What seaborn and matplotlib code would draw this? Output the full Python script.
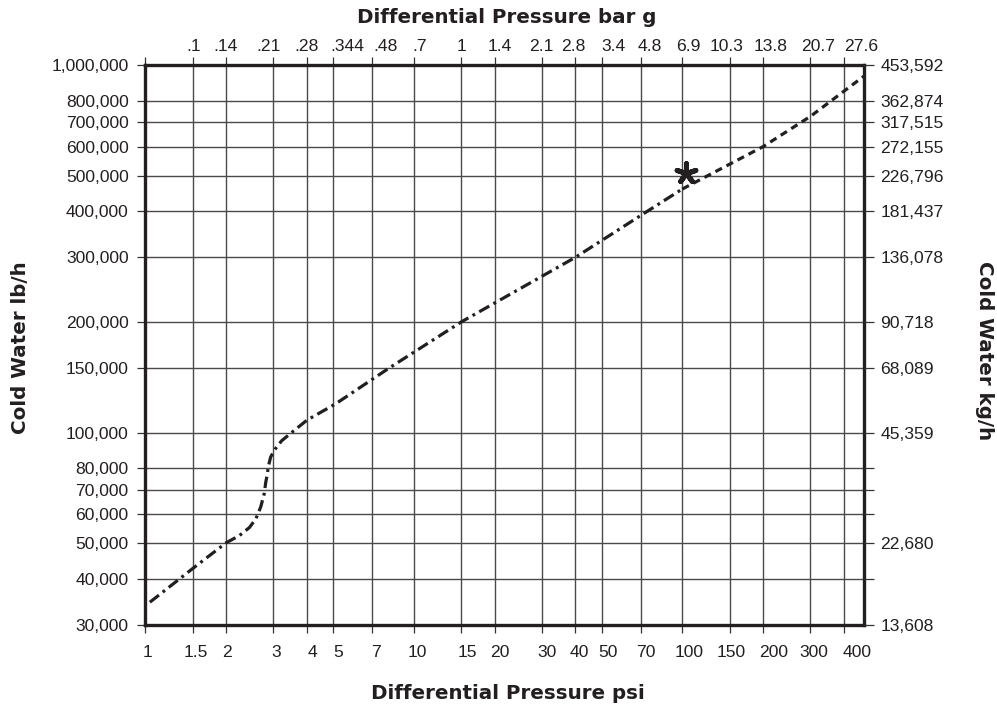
import matplotlib
matplotlib.use("Agg")
import matplotlib.pyplot as plt
import matplotlib.ticker as mticker
import matplotlib.transforms as mtrans
import seaborn as sns
import pandas as pd

# ---------------- data ----------------
psi_ticks = [1, 1.5, 2, 3, 4, 5, 7, 10, 15, 20, 30, 40, 50, 70, 100, 150, 200, 300, 400]
psi_labels = ["1", "1.5", "2", "3", "4", "5", "7", "10", "15", "20", "30", "40",
              "50", "70", "100", "150", "200", "300", "400"]
bar_labels = ["", ".1", ".14", ".21", ".28", ".344", ".48", ".7", "1", "1.4", "2.1",
              "2.8", "3.4", "4.8", "6.9", "10.3", "13.8", "20.7", "27.6"]

lbh_ticks = [30000, 40000, 50000, 60000, 70000, 80000, 100000, 150000, 200000,
             300000, 400000, 500000, 600000, 700000, 800000, 1000000]
lbh_labels = ["30,000", "40,000", "50,000", "60,000", "70,000", "80,000", "100,000",
              "150,000", "200,000", "300,000", "400,000", "500,000", "600,000",
              "700,000", "800,000", "1,000,000"]
kgh_labels = ["13,608", "", "22,680", "", "", "", "45,359", "68,089", "90,718",
              "136,078", "181,437", "226,796", "272,155", "317,515", "362,874", "453,592"]

# capacity curve (dash-dot part)
psi_main = [1.04, 1.5, 2.0, 2.24, 2.44, 2.58, 2.69, 2.77, 2.81, 2.85, 2.87, 2.93,
            3.05, 3.22, 3.5, 4.0, 5.12, 8.1, 15, 40, 74, 100]
flow_main = [34600, 42700, 50200, 52500, 55200, 58300, 62800, 68100, 73400, 77400,
             80800, 85900, 90400, 95100, 100000, 108200, 119900, 150000, 200000,
             300000, 400000, 460000]
# extrapolated part (dashed)
psi_ext = [100, 200, 300, 476]
flow_ext = [460000, 600000, 725000, 934000]
# marked point
star_psi = [103]
star_flow = [510000]

# ---------------- layout (label nudges in pixels, as in the original artwork) ----------------
bottom_nudge_px = [2.7, 3.4, 0.4, 2.6, 5.1, 5.1, 3.8, 3.7, 5.9, 5.4, 5.1, 3.6, 6.6,
                   5.3, 6.7, 1.4, 10.9, 3.6, 13.1]
top_nudge_px = [0, 1.4, -0.1, -4.4, -0.9, 14.1, 13.8, 6.2, -0.1, 5.4, -0.9, -2.4,
                11.6, 9.3, 5.7, -2.6, 7.9, 7.6, 17.1]

# ---------------- style ----------------
sns.set_style("white")
plt.rcParams["font.family"] = ["Liberation Sans", "DejaVu Sans"]
TXT = "#231f20"
TICK_FS = 12.6

fig = plt.figure(figsize=(9.97, 7.06), dpi=100)
ax = fig.add_axes([145.3 / 997, 1 - 625 / 706, (864.3 - 145.3) / 997, (625 - 65) / 706])
ax.set_xscale("log")
ax.set_yscale("log")
ax.set_xlim(1, 476)
ax.set_ylim(30000, 1000000)

df_main = pd.DataFrame({"psi": psi_main, "flow": flow_main})
df_ext = pd.DataFrame({"psi": psi_ext, "flow": flow_ext})
sns.lineplot(data=df_main, x="psi", y="flow", ax=ax, color=TXT, linewidth=2.3,
             sort=False, estimator=None, zorder=5)
ax.lines[-1].set_dashes([3.6, 1.5, 0.9, 1.5])
ax.lines[-1].set_solid_joinstyle("round")
sns.lineplot(data=df_ext, x="psi", y="flow", ax=ax, color=TXT, linewidth=2.3,
             sort=False, estimator=None, zorder=5)
ax.lines[-1].set_dashes([2.3, 1.6])
sns.scatterplot(x=star_psi, y=star_flow, ax=ax, marker=(5, 2, 0), s=200,
                color=TXT, linewidth=3.6, edgecolor=TXT, zorder=6)

# ticks and grid
ax.xaxis.set_minor_locator(mticker.NullLocator())
ax.yaxis.set_minor_locator(mticker.NullLocator())
ax.set_xticks(psi_ticks)
ax.set_xticklabels([])
ax.set_yticks(lbh_ticks)
ax.set_yticklabels(lbh_labels)
ax.grid(True, which="major", color="#4a4a4a", linewidth=1.0)
ax.tick_params(axis="x", direction="out", length=5, width=0.9, color="#333333",
               bottom=True, top=True, labelbottom=False)
ax.tick_params(axis="x", which="major", top=True, length=6)
ax.tick_params(axis="y", direction="out", length=5.5, width=0.9, color="#333333",
               pad=6.5, labelsize=TICK_FS, labelcolor=TXT, left=True)
for s in ax.spines.values():
    s.set_linewidth(2.4)
    s.set_color(TXT)
    s.set_zorder(7)

# bottom (psi) and top (bar g) tick labels, nudged as in the original
base = mtrans.blended_transform_factory(ax.transData, ax.transAxes)
for v, lab, dx in zip(psi_ticks, psi_labels, bottom_nudge_px):
    tr = base + mtrans.ScaledTranslation(dx / 100, -32.3 / 100, fig.dpi_scale_trans)
    ax.text(v, 0, lab, transform=tr, ha="center", va="baseline",
            fontsize=TICK_FS, color=TXT, clip_on=False)
for v, lab, dx in zip(psi_ticks, bar_labels, top_nudge_px):
    tr = base + mtrans.ScaledTranslation(dx / 100, 14.3 / 100, fig.dpi_scale_trans)
    ax.text(v, 1, lab, transform=tr, ha="center", va="baseline",
            fontsize=TICK_FS, color=TXT, clip_on=False)

# right axis (kg/h)
axr = ax.twinx()
axr.set_yscale("log")
axr.set_ylim(ax.get_ylim())
axr.yaxis.set_minor_locator(mticker.NullLocator())
axr.set_yticks(lbh_ticks)
axr.set_yticklabels(kgh_labels)
axr.tick_params(axis="y", direction="out", length=7, width=0.9, color="#333333",
                pad=4.5, labelsize=TICK_FS, labelcolor=TXT)
for s in axr.spines.values():
    s.set_visible(False)

# axis titles
ax.set_xlabel("")
ax.set_ylabel("")
TFONT = dict(fontsize=14.3, fontweight="bold", color=TXT, family="DejaVu Sans")
fig.text(508 / 997, 1 - 699 / 706, "Differential Pressure psi", ha="center",
         va="baseline", **TFONT)
fig.text(507 / 997, 1 - 22.7 / 706, "Differential Pressure bar g", ha="center",
         va="baseline", **TFONT)
fig.text(21 / 997, 1 - 347.5 / 706, "Cold Water lb/h", ha="center", va="center",
         rotation=90, **TFONT)
fig.text(984 / 997, 1 - 351 / 706, "Cold Water kg/h", ha="center", va="center",
         rotation=270, **TFONT)

fig.savefig("out.png", dpi=100)
